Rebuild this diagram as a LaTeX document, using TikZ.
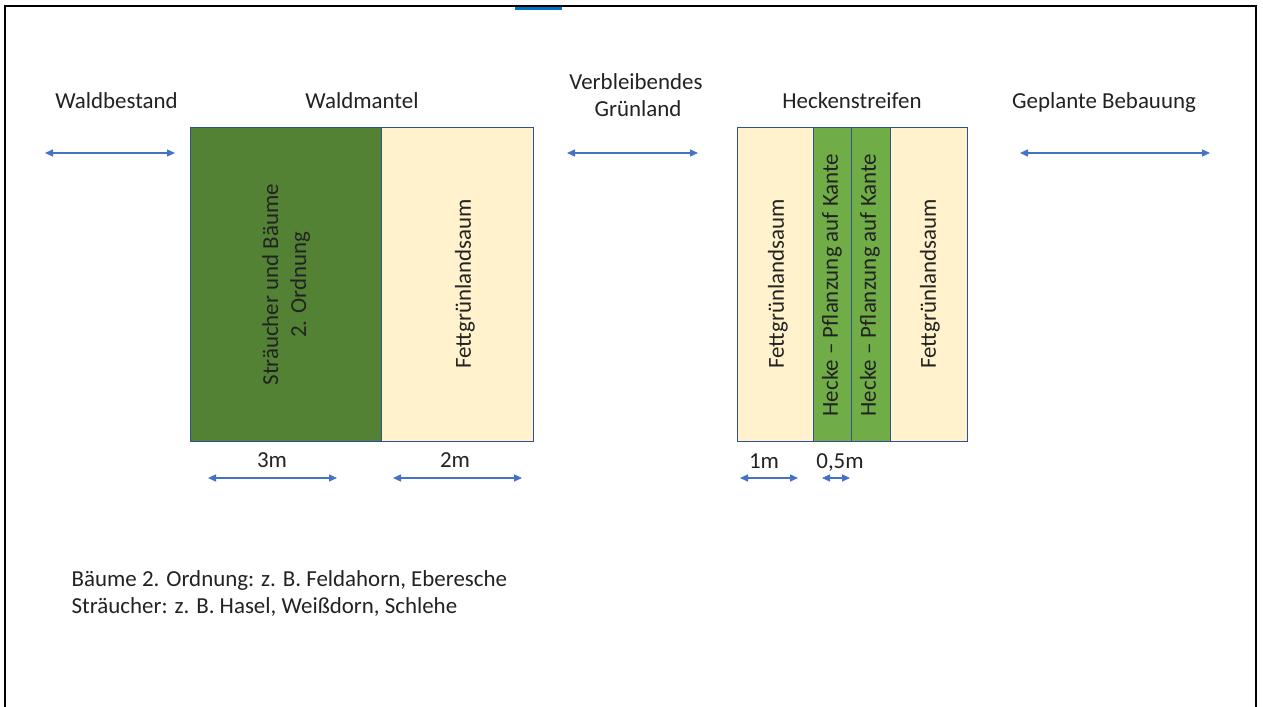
\documentclass[tikz,border=0pt]{standalone}
\usepackage{fontspec}
\setmainfont{Carlito}
\usetikzlibrary{arrows.meta}
\definecolor{dkgreen}{HTML}{548235}
\definecolor{ltgreen}{HTML}{70AD47}
\definecolor{cream}{HTML}{FFF2CC}
\definecolor{edgeblue}{HTML}{2F528F}
\definecolor{arrblue}{HTML}{4472C4}
\definecolor{txtcol}{HTML}{222222}
\definecolor{markblue}{HTML}{0070C0}
\begin{document}
\begin{tikzpicture}[x=1bp,y=-1bp,
  every node/.style={font=\fontsize{23}{28}\selectfont, text=txtcol, inner sep=0pt},
  strip/.style={draw=edgeblue, line width=1.4bp, anchor=north west, minimum height=314bp, inner sep=0pt},
  dimarrow/.style={draw=arrblue, line width=1.4bp, {Triangle[length=8bp,width=7bp]}-{Triangle[length=8bp,width=7bp]}},
  lbl/.style={anchor=base},
  vtext/.style={rotate=90, align=center}
]
\useasboundingbox (0,0) rectangle (1263,707);
\fill[white] (0,0) rectangle (1263,707);
% frame
\draw[line width=2bp] (5,710) -- (5,6) -- (1256,6) -- (1256,710);
\draw[markblue, line width=2.5bp] (515,8.5) -- (562,8.5);

% Waldmantel strips
\node[strip, fill=dkgreen, minimum width=191bp] (s1) at (190,127) {};
\node[strip, fill=cream, minimum width=152bp] (s2) at (381,127) {};
\node[vtext] (t1) at (s1.center) {Sträucher und Bäume\\2. Ordnung};
\node[vtext] (t2) at (465,284) {Fettgrünlandsaum};

% Heckenstreifen strips
\node[strip, fill=cream, minimum width=76bp] (h1) at (737,127) {};
\node[strip, fill=ltgreen, minimum width=38bp] (h2) at (813,127) {};
\node[strip, fill=ltgreen, minimum width=39bp] (h3) at (851,127) {};
\node[strip, fill=cream, minimum width=77bp] (h4) at (890,127) {};
\node[vtext] (th1) at (778,284) {Fettgrünlandsaum};
\node[vtext] (th2) at (832,285) {Hecke – Pflanzung auf Kante};
\node[vtext] (th3) at (870,285) {Hecke – Pflanzung auf Kante};
\node[vtext] (th4) at (930,284) {Fettgrünlandsaum};

% top labels
\node[lbl] (lwb) at (116.5,109) {Waldbestand};
\node[lbl] (lwm) at (362,109) {Waldmantel};
\node[lbl] (lvg1) at (636,90) {Verbleibendes};
\node[lbl] (lvg2) at (638,117) {Grünland};
\node[lbl] (lhs) at (852,109) {Heckenstreifen};
\node[lbl] (lgb) at (1104,109) {Geplante Bebauung};

% top arrows
\coordinate (a1l) at (45,153);  \coordinate (a1r) at (175,153);
\coordinate (a2l) at (567,153); \coordinate (a2r) at (698,153);
\coordinate (a3l) at (1020,153); \coordinate (a3r) at (1210,153);
\draw[dimarrow] (a1l) -- (a1r);
\draw[dimarrow] (a2l) -- (a2r);
\draw[dimarrow] (a3l) -- (a3r);

% dimension labels
\node[lbl] (d3) at (272,467) {3m};
\node[lbl] (d2) at (455,467) {2m};
\node[lbl] (d1) at (764,468) {1m};
\node[lbl] (d05) at (840,468) {0,5m};

% dimension arrows
\coordinate (b1l) at (208,478); \coordinate (b1r) at (337,478);
\coordinate (b2l) at (393,478); \coordinate (b2r) at (522,478);
\coordinate (b3l) at (740,478); \coordinate (b3r) at (798,478);
\coordinate (b4l) at (822,478); \coordinate (b4r) at (850,478);
\draw[dimarrow] (b1l) -- (b1r);
\draw[dimarrow] (b2l) -- (b2r);
\draw[dimarrow] (b3l) -- (b3r);
\draw[dimarrow] (b4l) -- (b4r);

% notes
\node[anchor=base west] (n1) at (71.5,586) {Bäume 2. Ordnung: z. B. Feldahorn, Eberesche};
\node[anchor=base west] (n2) at (71.5,613) {Sträucher: z. B. Hasel, Weißdorn, Schlehe};
\end{tikzpicture}
\end{document}
